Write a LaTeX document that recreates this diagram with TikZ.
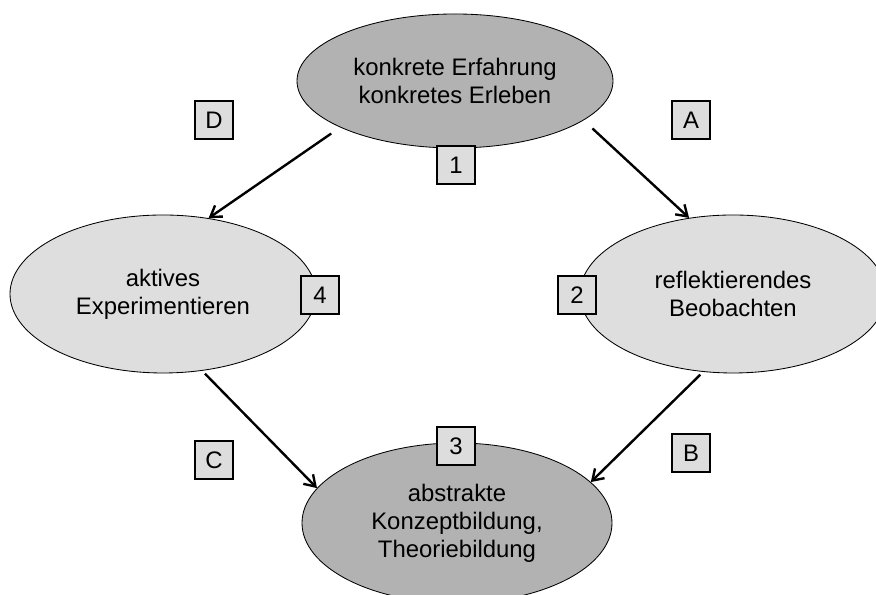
\documentclass[tikz,border=0pt]{standalone}
\usepackage{fontspec}
\setmainfont{Liberation Sans}
\usepackage{tikz}
\usetikzlibrary{arrows.meta, positioning, shapes.geometric, calc}

\definecolor{stagedark}{RGB}{178,178,178}
\definecolor{stagelight}{RGB}{222,222,222}
\definecolor{tagfill}{RGB}{221,221,221}

\begin{document}
\begin{tikzpicture}[
    stage/.style={ellipse, draw, line width=0.6pt, inner sep=0pt, align=center,
      font=\fontsize{17}{20}\selectfont, minimum width=7.65cm, minimum height=3.95cm},
    tag/.style={draw, line width=0.9pt, fill=tagfill, minimum size=0.95cm,
      inner sep=0pt, font=\fontsize{17}{20}\selectfont},
    flow/.style={-{Straight Barb[length=2.6mm, width=3.4mm]}, line width=1.7pt}
  ]
      \useasboundingbox (0,0) rectangle (21.9,14.875);

      % Stages of the cycle
      \node[stage, fill=stagedark, minimum width=7.9cm, minimum height=3.35cm] (erfahrung) at (11.375,12.85) {konkrete Erfahrung\\konkretes Erleben};
      \node[stage, fill=stagelight] (beobachten) at (18.325,7.525) {reflektierendes\\Beobachten};
      \node[stage, fill=stagedark, minimum width=7.75cm, minimum height=4cm] (konzept) at (11.425,1.8) {abstrakte\\Konzeptbildung,\\Theoriebildung};
      \node[stage, fill=stagelight] (experiment) at (4.075,7.525) {aktives\\Experimentieren};

      % Numbers
      \node[tag] (n1) at (11.4,10.75) {1};
      \node[tag] (n2) at (14.425,7.5) {2};
      \node[tag] (n3) at (11.4,3.725) {3};
      \node[tag] (n4) at (8.0,7.5) {4};

      % Letters
      \node[tag] (la) at (17.275,11.875) {A};
      \node[tag] (lb) at (17.275,3.55) {B};
      \node[tag] (lc) at (5.35,3.375) {C};
      \node[tag] (ld) at (5.35,11.875) {D};

      % Arrows
      \draw[flow, shorten <=0.3cm] (erfahrung.-17) -- (beobachten.120);
      \draw[flow, shorten <=0.1cm] (beobachten.249) -- (konzept.17);
      \draw[flow, shorten <=0.1cm] (experiment.-63) -- (konzept.166);
      \draw[flow, shorten <=0.27cm] (erfahrung.202) -- (experiment.59);
    \end{tikzpicture}
\end{document}
